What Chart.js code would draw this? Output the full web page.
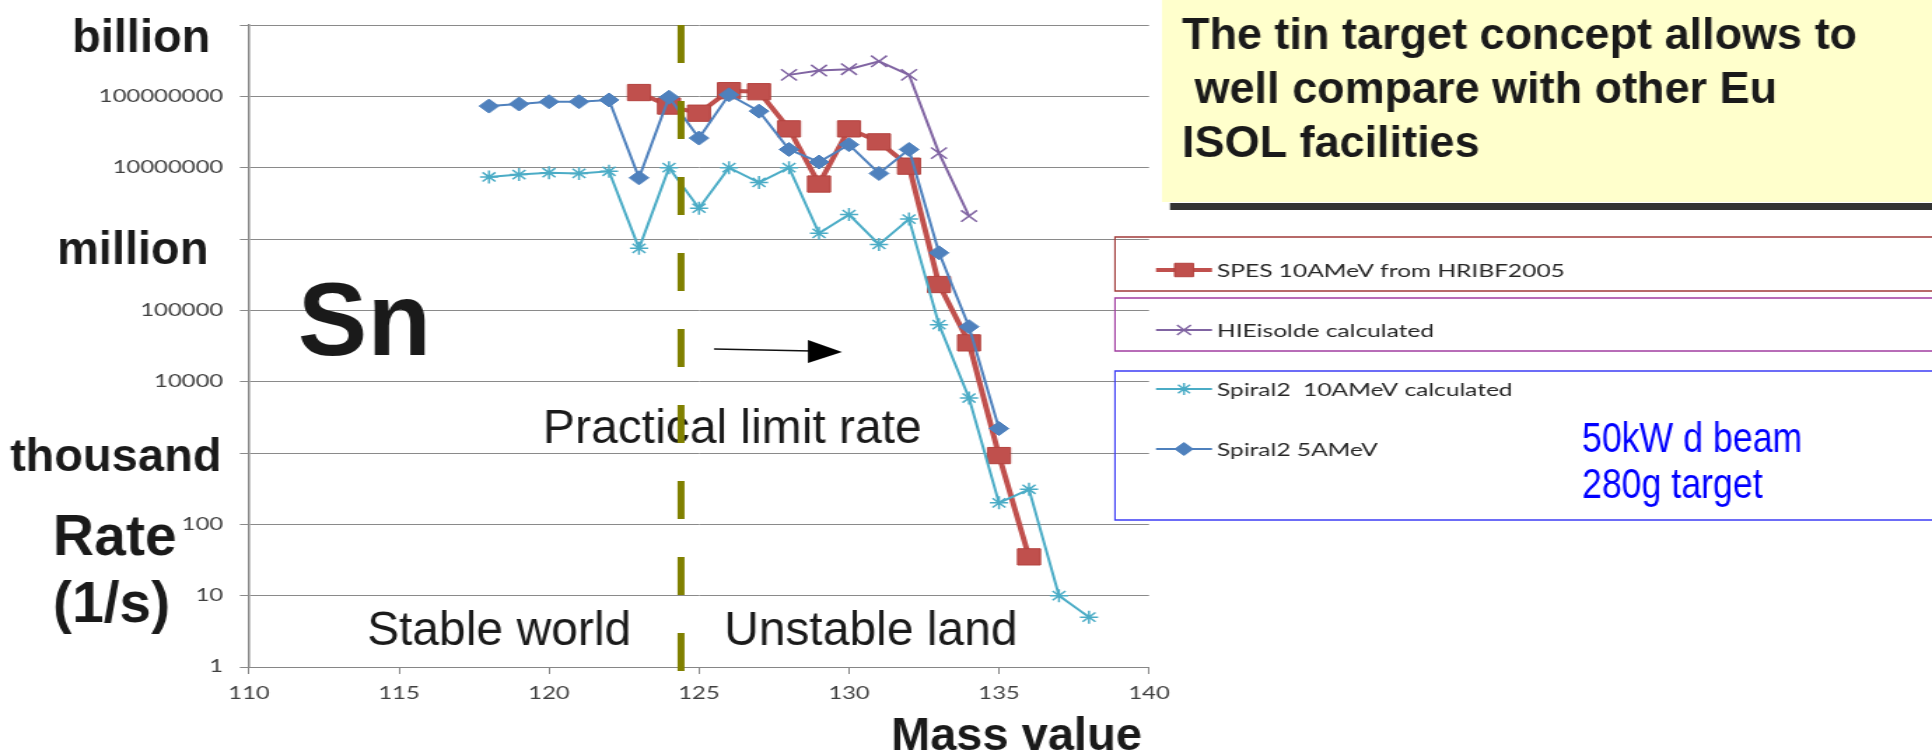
<!DOCTYPE html>
<html>
<head>
<meta charset="utf-8">
<title>Sn rates</title>
<script src="https://cdn.jsdelivr.net/npm/chart.js@4/dist/chart.umd.min.js"></script>
<style>
  html, body { margin: 0; padding: 0; background: #fff; overflow: hidden; }
  #chart { display: block; }
</style>
</head>
<body>
<!-- the chart was pasted stretched sideways into the slide, so the canvas is too -->
<canvas id="chart" width="1380" height="752" style="width:1932px;height:752px"></canvas>
<script>
// rates in 1/s per mass number
const spesMass = [123, 124, 125, 126, 127, 128, 129, 130, 131, 132, 133, 134, 135, 136];
const spesRate = [1.13e8, 7.3e7, 5.8e7, 1.2e8, 1.16e8, 3.5e7, 5.9e6, 3.5e7, 2.3e7, 1.05e7, 2.3e5, 3.5e4, 920, 35];

const hieMass = [128, 129, 130, 131, 132, 133, 134];
const hieRate = [2.0e8, 2.3e8, 2.4e8, 3.1e8, 2.0e8, 1.6e7, 2.1e6];

const sp10Mass = [118, 119, 120, 121, 122, 123, 124, 125, 126, 127, 128, 129, 130, 131, 132, 133, 134, 135, 136, 137, 138];
const sp10Rate = [7.4e6, 8.0e6, 8.5e6, 8.3e6, 8.9e6, 7.4e5, 1.0e7, 2.7e6, 1.0e7, 6.2e6, 1.0e7, 1.2e6, 2.2e6, 8.4e5, 1.9e6, 6.3e4, 5.9e3, 200, 310, 10, 5];

const sp5Mass = [118, 119, 120, 121, 122, 123, 124, 125, 126, 127, 128, 129, 130, 131, 132, 133, 134, 135];
const sp5Rate = [7.3e7, 7.8e7, 8.4e7, 8.4e7, 8.9e7, 7.2e6, 9.7e7, 2.6e7, 1.05e8, 6.2e7, 1.8e7, 1.2e7, 2.1e7, 8.3e6, 1.8e7, 6.4e5, 5.9e4, 2.2e3];

const seriesLabels = ['SPES 10AMeV from HRIBF2005', 'HIEisolde calculated', 'Spiral2  10AMeV calculated', 'Spiral2 5AMeV'];

// stable / unstable border (dashed)
const limitMass = [124.4, 124.4];
const limitRate = [1e9, 0.77];

const xTicks = [110, 115, 120, 125, 130, 135, 140];
const yTicks = [1, 10, 100, 1e3, 1e4, 1e5, 1e6, 1e7, 1e8, 1e9];
const yTickLabels = ['1', '10', '100', '', '10000', '100000', '', '10000000', '100000000', ''];

const S = 1932 / 1380;
const tickFont = { family: 'Lato, "DejaVu Sans", sans-serif', size: 17 };
const slideFont = '"Liberation Sans", Arial, sans-serif';

function toPoints(xs, ys) {
  return xs.map((x, i) => ({ x: x, y: ys[i] }));
}

const datasets = [{
  label: seriesLabels[0],
  data: toPoints(spesMass, spesRate),
  borderColor: '#C0504D',
  borderWidth: 4,
  pointStyle: 'rect',
  pointRadius: 11.5,
  pointBackgroundColor: '#C0504D',
  pointBorderColor: '#B4433F',
  pointBorderWidth: 1,
  order: 3
}, {
  label: seriesLabels[1],
  data: toPoints(hieMass, hieRate),
  borderColor: '#8064A2',
  borderWidth: 2,
  pointStyle: 'crossRot',
  pointRadius: 8,
  pointBorderColor: '#8064A2',
  pointBorderWidth: 1.5,
  order: 2
}, {
  label: seriesLabels[2],
  data: toPoints(sp10Mass, sp10Rate),
  borderColor: '#4BACC6',
  borderWidth: 2,
  pointStyle: 'star',
  pointRadius: 6.5,
  pointBorderColor: '#4BACC6',
  pointBorderWidth: 1.5,
  order: 1
}, {
  label: seriesLabels[3],
  data: toPoints(sp5Mass, sp5Rate),
  borderColor: '#4F81BD',
  borderWidth: 2,
  pointStyle: 'rectRot',
  pointRadius: 7,
  pointBackgroundColor: '#4F81BD',
  pointBorderColor: '#4F81BD',
  pointBorderWidth: 1,
  order: 0
}, {
  label: 'limit',
  data: toPoints(limitMass, limitRate),
  borderColor: '#808000',
  borderWidth: 5,
  borderDash: [38, 38],
  borderCapStyle: 'butt',
  pointRadius: 0,
  clip: false,
  order: -1
}];

// legend marker sizes are a bit smaller than in the plot
const legendRadius = [9.5, 7, 6, 6.5];
const legendY = [270, 330, 389, 449];

function drawMarker(ctx, ds, r, x, y) {
  ctx.fillStyle = ds.pointBackgroundColor || ds.borderColor;
  ctx.strokeStyle = ds.pointBorderColor;
  ctx.lineWidth = ds.pointBorderWidth;
  Chart.helpers.drawPoint(ctx, { pointStyle: ds.pointStyle, radius: r, rotation: 0, borderWidth: ds.pointBorderWidth }, x, y);
}

const slide = {
  id: 'slide',
  beforeDatasetsDraw(chart) {
    const ctx = chart.ctx;
    ctx.save();
    ctx.scale(1 / S, 1);
    ctx.fillStyle = '#1a1a1a';
    ctx.textBaseline = 'alphabetic';
    ctx.font = 'bold 104px ' + slideFont;
    ctx.fillText('Sn', 298, 355);
    ctx.font = '48px ' + slideFont;
    ctx.fillText('Practical limit rate', 543, 443);
    ctx.fillText('Stable world', 367, 645);
    ctx.fillText('Unstable land', 724, 645);

    ctx.strokeStyle = '#111';
    ctx.lineWidth = 1.5;
    ctx.beginPath();
    ctx.moveTo(714, 349);
    ctx.lineTo(812, 351);
    ctx.stroke();
    ctx.fillStyle = '#000';
    ctx.beginPath();
    ctx.moveTo(808, 340);
    ctx.lineTo(842, 352);
    ctx.lineTo(808, 363);
    ctx.closePath();
    ctx.fill();
    ctx.restore();
  },
  afterDraw(chart) {
    const ctx = chart.ctx;
    ctx.save();
    ctx.scale(1 / S, 1);

    // yellow note
    ctx.fillStyle = '#FFFFCC';
    ctx.fillRect(1162, 0, 770, 202);
    ctx.fillStyle = '#333';
    ctx.fillRect(1170, 203, 762, 7);
    ctx.fillStyle = '#1a1a1a';
    ctx.font = 'bold 45px ' + slideFont;
    ctx.fillText('The tin target concept allows to', 1182, 49);
    ctx.fillText(' well compare with other Eu', 1182, 103);
    ctx.fillText('ISOL facilities', 1182, 157);

    // boxes round the legend
    ctx.lineWidth = 1.5;
    ctx.strokeStyle = '#A03A38';
    ctx.strokeRect(1115, 237, 830, 54);
    ctx.strokeStyle = '#A03CA0';
    ctx.strokeRect(1115, 298, 830, 53);
    ctx.strokeStyle = '#3C3CF5';
    ctx.strokeRect(1115, 371, 830, 149);

    ctx.fillStyle = '#1a1a1a';
    ctx.font = 'bold 47px ' + slideFont;
    ctx.fillText('billion', 72, 52);
    ctx.fillText('million', 57, 264);
    ctx.fillText('thousand', 10, 471);
    ctx.font = 'bold 57px ' + slideFont;
    ctx.fillText('Rate', 53, 555);
    ctx.fillText('(1/s)', 53, 622);
    ctx.font = 'bold 47px ' + slideFont;
    ctx.fillText('Mass value', 891, 750);

    // narrow blue note
    ctx.save();
    ctx.translate(1582, 0);
    ctx.scale(0.85, 1);
    ctx.fillStyle = '#0000FF';
    ctx.font = '42px ' + slideFont;
    ctx.fillText('50kW d beam', 0, 452);
    ctx.fillText('280g target', 0, 498);
    ctx.restore();
    ctx.restore();

    // legend entries, in chart (stretched) space
    ctx.save();
    const x0 = 1156 / S, x1 = 1212 / S;
    for (let i = 0; i < 4; i++) {
      const ds = chart.data.datasets[i];
      const y = legendY[i];
      ctx.strokeStyle = ds.borderColor;
      ctx.lineWidth = ds.borderWidth;
      ctx.beginPath();
      ctx.moveTo(x0, y);
      ctx.lineTo(x1, y);
      ctx.stroke();
      drawMarker(ctx, ds, legendRadius[i], (x0 + x1) / 2, y);
      ctx.fillStyle = '#262626';
      ctx.font = '17.5px Lato, "DejaVu Sans", sans-serif';
      ctx.textBaseline = 'middle';
      ctx.fillText(ds.label, 1217 / S, y + 1);
    }
    ctx.restore();
  }
};

new Chart(document.getElementById('chart'), {
  type: 'line',
  data: { datasets: datasets },
  options: {
    responsive: false,
    animation: false,
    layout: { padding: { top: 25, right: 1380 - 1149 / S, bottom: 0, left: 0 } },
    plugins: { legend: { display: false }, tooltip: { enabled: false } },
    scales: {
      x: {
        type: 'linear',
        min: 110,
        max: 140,
        afterBuildTicks: (s) => { s.ticks = xTicks.map(v => ({ value: v })); },
        afterFit: (s) => { s.height = 85; },
        grid: { drawOnChartArea: false, color: '#868686', tickLength: 7 },
        border: { color: '#868686', width: 1 },
        ticks: { font: tickFont, color: '#404040', padding: 9, autoSkip: false, maxRotation: 0 }
      },
      y: {
        type: 'logarithmic',
        min: 1,
        max: 1e9,
        afterBuildTicks: (s) => { s.ticks = yTicks.map(v => ({ value: v })); },
        afterFit: (s) => { s.width = 249 / S; },
        grid: { color: '#8a8a8a', lineWidth: 1, tickLength: 6.5 },
        border: { color: '#8a8a8a', width: 1.5 },
        ticks: {
          font: tickFont,
          color: '#404040',
          padding: 12,
          autoSkip: false,
          callback: (v) => yTickLabels[yTicks.indexOf(v)]
        }
      }
    }
  },
  plugins: [slide]
});
</script>
</body>
</html>
